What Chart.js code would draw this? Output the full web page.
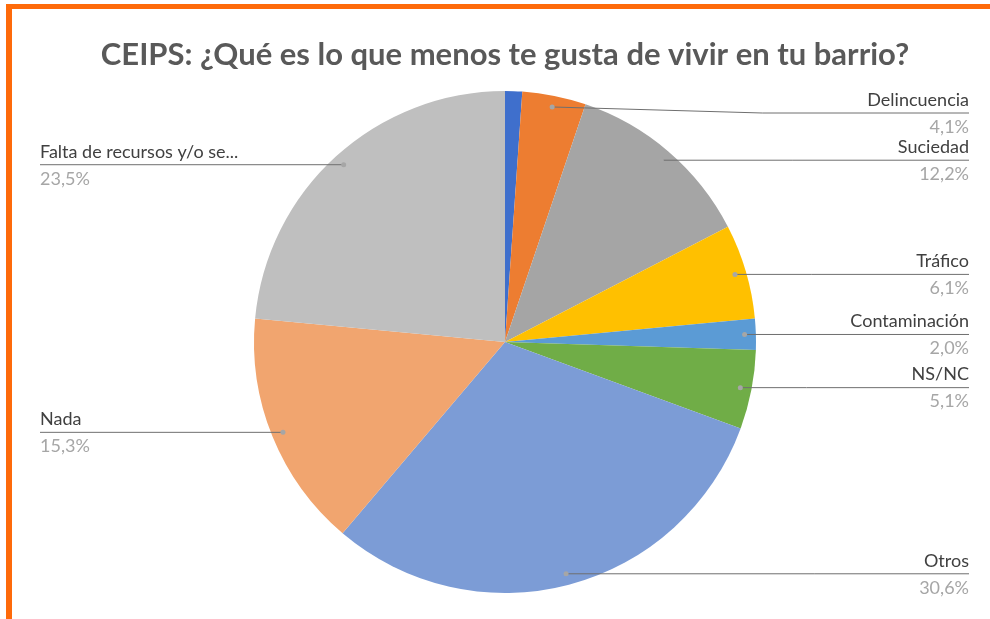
<!DOCTYPE html>
<html>
<head>
<meta charset="utf-8">
<script src="https://cdn.jsdelivr.net/npm/chart.js@4"></script>
<style>
  html, body { margin: 0; padding: 0; background: #fff; }
  #wrap { position: relative; width: 990px; height: 619px; overflow: hidden; }
  #frame { position: absolute; left: 6px; top: 4px; right: -10px; bottom: -10px;
           border-top: 5px solid #fe6a0a; border-left: 6px solid #fe6a0a; }
  #chart { position: absolute; left: 0; top: 0; }
</style>
</head>
<body>
<div id="wrap">
  <div id="frame"></div>
  <canvas id="chart" width="990" height="619"></canvas>
</div>
<script>
const title = 'CEIPS: ¿Qué es lo que menos te gusta de vivir en tu barrio?';
const categories = ['', 'Delincuencia', 'Suciedad', 'Tráfico', 'Contaminación', 'NS/NC', 'Otros', 'Nada', 'Falta de recursos y/o se...'];
const values = [1.1, 4.1, 12.2, 6.1, 2.0, 5.1, 30.6, 15.3, 23.5];
const colors = ['#3f6fcc', '#ed7d31', '#a5a5a5', '#ffc000', '#5b9bd5', '#70ad47', '#7c9cd6', '#f1a56f', '#bfbfbf'];

const fontFamily = 'Lato, "Open Sans", sans-serif';

// Excel-style callout labels: dot inside the slice, leader line under the name
const callouts = {
  id: 'callouts',
  afterDatasetsDraw(chart) {
    const ctx = chart.ctx;
    const meta = chart.getDatasetMeta(0);
    const area = chart.chartArea;
    const rightEdge = 969, leftEdge = 40;
    ctx.save();
    ctx.font = '18px ' + fontFamily;
    meta.data.forEach((arc, i) => {
      const name = categories[i];
      if (!name) return;
      const p = arc.getProps(['x', 'y', 'startAngle', 'endAngle', 'outerRadius']);
      const mid = (p.startAngle + p.endAngle) / 2;
      const dx = p.x + Math.cos(mid) * p.outerRadius * 0.955;
      const dy = p.y + Math.sin(mid) * p.outerRadius * 0.955;
      const right = dx > p.x;
      const lineY = Math.max(dy, area.top + 22);
      const pct = values[i].toFixed(1).replace('.', ',') + '%';
      const w = Math.max(ctx.measureText(name).width, ctx.measureText(pct).width);

      ctx.strokeStyle = '#6f6f6f';
      ctx.lineWidth = 1;
      ctx.beginPath();
      if (right) {
        const bendX = rightEdge - w - 105;
        ctx.moveTo(dx, dy);
        ctx.lineTo(Math.max(bendX, dx), lineY);
        ctx.lineTo(rightEdge, lineY);
      } else {
        ctx.moveTo(dx, dy);
        ctx.lineTo(leftEdge, lineY);
      }
      ctx.stroke();

      ctx.fillStyle = '#a6a6a6';
      ctx.beginPath();
      ctx.arc(dx, dy, 2.5, 0, Math.PI * 2);
      ctx.fill();

      ctx.textAlign = right ? 'right' : 'left';
      ctx.textBaseline = 'middle';
      const tx = right ? rightEdge : leftEdge;
      ctx.fillStyle = '#404040';
      ctx.fillText(name, tx, lineY - 13);
      ctx.fillStyle = '#a6a6a6';
      ctx.fillText(pct, tx, lineY + 14);
    });
    ctx.restore();
  }
};

new Chart(document.getElementById('chart'), {
  type: 'pie',
  data: {
    labels: categories,
    datasets: [{
      data: values,
      backgroundColor: colors,
      borderWidth: 0
    }]
  },
  options: {
    responsive: false,
    animation: false,
    layout: { padding: { left: 20, right: 0, top: 0, bottom: 26 } },
    plugins: {
      legend: { display: false },
      tooltip: { enabled: false },
      title: {
        display: true,
        text: title,
        color: '#595959',
        font: { family: fontFamily, size: 31, weight: 'bold', lineHeight: 1.2 },
        padding: { top: 36.4, bottom: 17.4 }
      }
    }
  },
  plugins: [callouts]
});
</script>
</body>
</html>
